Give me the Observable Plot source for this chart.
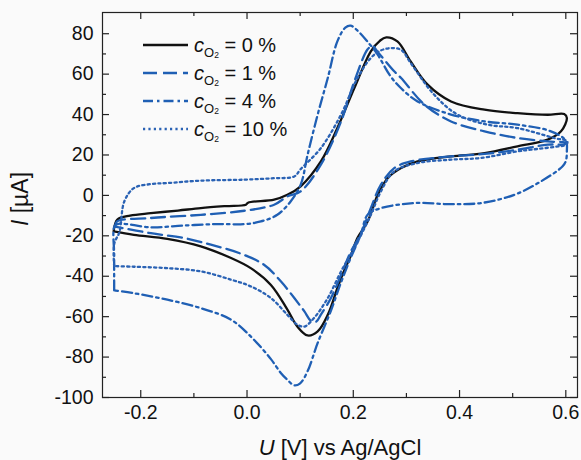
<!DOCTYPE html>
<html><head><meta charset="utf-8">
<script src="https://cdn.jsdelivr.net/npm/d3@7"></script>
<script src="https://cdn.jsdelivr.net/npm/@observablehq/plot@0.6"></script>
<style>html,body{margin:0;padding:0;background:#fafafa;}</style>
</head><body><div id="chart"></div>
<script>
// ---- data ----
const seriesNames = ["0 %", "1 %", "4 %", "10 %"];

const u0 = [-0.251,-0.244,-0.22,-0.181,-0.13,-0.087,-0.04,-0.002,0.002,0.051,0.076,0.101,0.139,0.170,0.202,0.233,0.250,0.262,0.283,0.308,0.340,0.384,0.447,0.509,0.566,0.597,0.602,0.591,0.566,0.509,0.447,0.384,0.321,0.290,0.265,0.246,0.227,0.208,0.195,0.180,0.170,0.152,0.133,0.114,0.095,0.076,0.045,0.007,-0.030,-0.087,-0.150,-0.213,-0.251];
const i0 = [-17.8,-12,-10,-8.8,-7.5,-6.3,-5.3,-4.6,-3.6,-2.1,0.3,4.5,16.8,33.3,53.1,71.3,76.5,78.2,76.2,66.3,54.8,46.5,42.4,40.7,39.9,40.3,38.3,31.7,27.6,24.3,20.9,19.3,16.8,13.5,8.6,0.3,-12.9,-21,-30,-39,-45.9,-59.1,-67.3,-69.3,-65,-56.5,-44.3,-36,-31,-25.2,-21.5,-19.5,-17.8];

const u1 = [-0.248,-0.245,-0.181,-0.087,-0.005,0.051,0.076,0.101,0.139,0.177,0.202,0.227,0.236,0.246,0.277,0.290,0.334,0.384,0.447,0.509,0.566,0.600,0.598,0.566,0.509,0.447,0.384,0.308,0.277,0.252,0.233,0.214,0.195,0.177,0.158,0.139,0.130,0.120,0.108,0.089,0.064,0.032,-0.015,-0.068,-0.118,-0.181,-0.248];
const i1 = [-15.5,-13,-11.2,-9.6,-7.6,-4.6,-0.5,2,15.2,36.6,56.4,72.3,74,71,61.4,58.1,44.9,36.6,31.7,28.4,26.7,26,25.3,25.1,22.6,20.5,19.3,16.8,13.5,5.3,-6.3,-19,-28,-39.3,-50.8,-59,-62.5,-62,-57.4,-50.8,-42.6,-34.3,-28.5,-24.4,-21.1,-18.7,-15.5];

const u4 = [-0.25,-0.25,-0.249,-0.24,-0.181,-0.118,-0.056,-0.005,0.026,0.057,0.082,0.101,0.114,0.133,0.152,0.170,0.185,0.195,0.210,0.227,0.245,0.270,0.290,0.321,0.384,0.447,0.509,0.572,0.600,0.602,0.600,0.594,0.553,0.503,0.440,0.378,0.315,0.252,0.227,0.214,0.195,0.177,0.158,0.133,0.114,0.100,0.089,0.075,0.064,0.045,0.010,-0.030,-0.087,-0.150,-0.213,-0.25];
const i4 = [-47,-30,-15,-14,-15.8,-14.9,-14.2,-14.2,-12.9,-9.6,-3,5.3,20.1,40,58.1,76.2,83,84,81,76,70,59,53,46.5,40,36.6,35,31.7,27,22,17,14.4,6.9,0.3,-3.8,-4.3,-3.8,-6.3,-9.6,-19.5,-31,-43,-57,-73,-87,-93,-94,-91,-88,-81,-70.6,-61.5,-55.8,-51.6,-48.4,-47];

const u10 = [-0.25,-0.25,-0.24,-0.231,-0.213,-0.181,-0.15,-0.087,-0.005,0.05,0.089,0.101,0.139,0.177,0.208,0.233,0.250,0.271,0.290,0.308,0.352,0.396,0.453,0.509,0.578,0.603,0.600,0.578,0.534,0.509,0.440,0.384,0.321,0.277,0.252,0.233,0.205,0.177,0.152,0.126,0.108,0.095,0.076,0.045,0.007,-0.030,-0.087,-0.150,-0.213,-0.25];
const i10 = [-35,-24,-18,-3,3.6,5.6,6.1,7.3,7.8,8.5,9.4,13,23.4,40,58.1,68,71.5,72.9,72,65.5,49.9,40,35,33.3,28.4,26.7,25,24,22.6,21.8,18.5,17.7,16,11.9,2,-9.6,-24.5,-37.6,-50.8,-60.7,-64.9,-64,-59.1,-50.8,-45,-41.7,-37.6,-36,-35.3,-35];

const xMajor = [-0.2, 0.0, 0.2, 0.4, 0.6];
const xMinor = [-0.1, 0.1, 0.3, 0.5];
const yMajor = [-100, -80, -60, -40, -20, 0, 20, 40, 60, 80];
const yMinor = [-90, -70, -50, -30, -10, 10, 30, 50, 70];

// ---- styles ----
const colors = ["#111111", "#1f5fb4", "#1f5fb4", "#2a62b4"];
const dashes = ["none", "14,6", "10,4,2.5,4", "2.2,3.2"];

const us = [u0, u1, u4, u10], is = [i0, i1, i4, i10];
const rows = seriesNames.flatMap((s, k) => us[k].map((u, j) => ({s, u, i: is[k][j], j})));

const font = "Liberation Sans, Arial, Helvetica, sans-serif";
const W = 581, H = 460, mL = 102, mR = 4, mT = 12, mB = 63;
const innerW = W - mL - mR, innerH = H - mT - mB;

// inward frame ticks: short rules inset from the opposite side of the frame
const tickSt = {stroke: "#222", strokeWidth: 1.2};
const ticksX = (v, side, len) => Plot.ruleX(v, {x: d => d, ...tickSt,
  ...(side === "bottom" ? {insetTop: innerH - len} : {insetBottom: innerH - len})});
const ticksY = (v, side, len) => Plot.ruleY(v, {y: d => d, ...tickSt,
  ...(side === "left" ? {insetRight: innerW - len} : {insetLeft: innerW - len})});

const chart = Plot.plot({
  width: W, height: H,
  marginLeft: mL, marginRight: mR, marginTop: mT, marginBottom: mB,
  x: {domain: [-0.272, 0.622]},
  y: {domain: [-100, 90.5]},
  style: {fontFamily: font, fontSize: "19.5px", background: "#fafafa", color: "#111", overflow: "visible"},
  marks: [
    ...seriesNames.map((s, k) => Plot.line(rows.filter(d => d.s === s), {
      x: "u", y: "i", stroke: colors[k], strokeWidth: 2.3,
      strokeDasharray: dashes[k], curve: "catmull-rom"
    })),
    ticksX(xMajor, "bottom", 7), ticksX(xMinor, "bottom", 4),
    ticksX(xMajor, "top", 7), ticksX(xMinor, "top", 4),
    ticksY(yMajor, "left", 7), ticksY(yMinor, "left", 4),
    ticksY(yMajor, "right", 7), ticksY(yMinor, "right", 4),
    Plot.axisX({ticks: xMajor, tickSize: 0, tickPadding: 8, fontSize: 19.5, tickFormat: d => d.toFixed(1), label: null}),
    Plot.axisY({ticks: yMajor, tickSize: 0, tickPadding: 9, fontSize: 19.5, tickFormat: d => String(d), label: null}),
    Plot.frame({stroke: "#222", strokeWidth: 1.2})
  ]
});
document.getElementById("chart").appendChild(chart);

// ---- axis titles and legend ----
const svg = d3.select(chart);
const xt = svg.append("text").attr("x", 340).attr("y", 447).attr("dy", "0.35em")
  .attr("text-anchor", "middle").attr("font-size", 22).attr("font-family", font).attr("fill", "#111");
xt.append("tspan").attr("font-style", "italic").text("U");
xt.append("tspan").text(" [V] vs Ag/AgCl");

const yt = svg.append("text").attr("transform", "translate(20,199) rotate(-90)").attr("dy", "0.35em")
  .attr("text-anchor", "middle").attr("font-size", 23).attr("font-family", font).attr("fill", "#111");
yt.append("tspan").attr("font-style", "italic").text("I");
yt.append("tspan").text(" [µA]");

const legY = [45, 73, 101, 129];
const leg = svg.append("g").attr("font-family", font).attr("fill", "#111").attr("text-anchor", "start");
seriesNames.forEach((s, k) => {
  leg.append("line").attr("x1", 143).attr("x2", 188).attr("y1", legY[k]).attr("y2", legY[k])
    .attr("stroke", colors[k]).attr("stroke-width", 2.3).attr("stroke-dasharray", dashes[k]);
  const t = leg.append("text").attr("x", 194).attr("y", legY[k] + 6.5).attr("font-size", 20)
    .attr("text-anchor", "start");
  t.append("tspan").attr("font-style", "italic").text("c");
  t.append("tspan").attr("font-size", 13).attr("dy", 5).text("O");
  t.append("tspan").attr("font-size", 8.5).attr("dy", 1).text("2");
  t.append("tspan").attr("dy", -6).text(" = " + s);
});
</script>
</body></html>
